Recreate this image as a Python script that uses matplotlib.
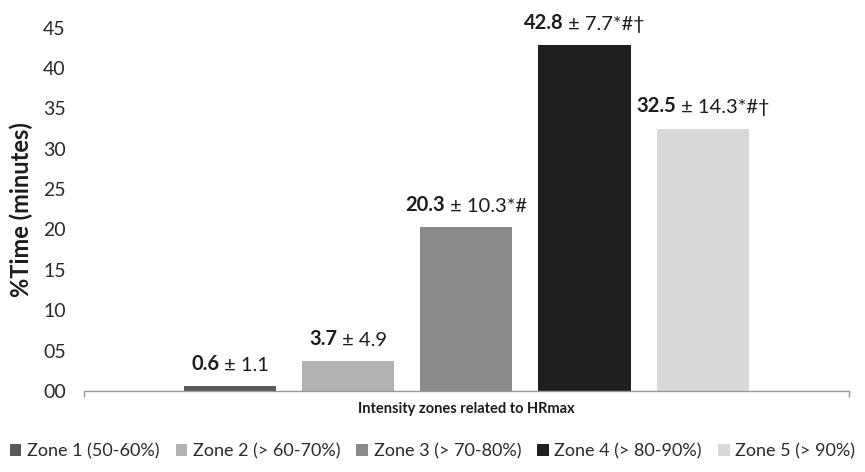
import matplotlib.pyplot as plt
from matplotlib.patches import Patch

# time spent per heart-rate intensity zone
zones = ["Zone 1 (50-60%)", "Zone 2 (> 60-70%)", "Zone 3 (> 70-80%)",
         "Zone 4 (> 80-90%)", "Zone 5 (> 90%)"]
means = [0.6, 3.7, 20.3, 42.8, 32.5]
sds = [1.1, 4.9, 10.3, 7.7, 14.3]
marks = ["", "", "*#", "*#\u2020", "*#\u2020"]
colors = ["#595959", "#b2b2b2", "#8a8a8a", "#1f1f1f", "#d9d9d9"]
yticks = [0, 5, 10, 15, 20, 25, 30, 35, 40, 45]
ytick_labels = ["00", "05", "10", "15", "20", "25", "30", "35", "40", "45"]

plt.rcParams['font.family'] = ['Lato', 'DejaVu Sans']
TEXT = "#1c1c1c"

fig = plt.figure(figsize=(8.65, 4.72), dpi=100)
ax = fig.add_axes([0.097, 0.1716, 0.8845, 0.770])

x = list(range(len(zones)))
ax.bar(x, means, width=0.78, color=colors)

# value labels: bold mean, regular "± sd" plus significance marks,
# the pair centred over its bar
for xi, m, s, mk in zip(x, means, sds, marks):
    bold = ax.annotate(f"{m:.1f}", xy=(xi, m), xytext=(0, 9),
                       textcoords="offset points", ha="right", va="bottom",
                       fontsize=14.5, fontweight="bold", color=TEXT)
    rest = ax.annotate(f" \u00b1 {s:.1f}{mk}", xy=(xi, m), xytext=(0, 9),
                       textcoords="offset points", ha="left", va="bottom",
                       fontsize=14.5, color=TEXT)
    fig.canvas.draw()
    bw = bold.get_window_extent().width
    rw = rest.get_window_extent().width
    shift = (bw - rw) / 2 * 72 / fig.dpi
    bold.set_position((shift, 9))
    rest.set_position((shift, 9))

ax.set_xlim(-1.24, 5.24)
ax.set_ylim(0, 45)
ax.set_yticks(yticks)
ax.set_yticklabels(ytick_labels, fontsize=14, color="#2a2a2a")
ax.tick_params(axis="y", length=0, pad=13)
ax.set_xticks([-1.24, 5.24])
ax.set_xticklabels([])
ax.tick_params(axis="x", length=4.5, width=1, color="#999999", direction="out")

for side in ["top", "right", "left"]:
    ax.spines[side].set_visible(False)
ax.spines["bottom"].set_color("#999999")
ax.spines["bottom"].set_linewidth(1)

ax.set_ylabel("%Time (minutes)", fontsize=17, fontweight="bold",
              color=TEXT, labelpad=7)
fig.text(0.539, 0.133, "Intensity zones related to HRmax", ha="center",
         va="center", fontsize=10.5, fontweight="bold", color=TEXT)

handles = [Patch(facecolor=c, label=z) for c, z in zip(colors, zones)]
fig.legend(handles=handles, loc="center", bbox_to_anchor=(0.5, 0.044),
           ncol=5, frameon=False, fontsize=13, handlelength=0.65,
           handleheight=0.65, handletextpad=0.3, columnspacing=0.9,
           labelcolor="#2a2a2a")

fig.savefig("out.png", dpi=100)
